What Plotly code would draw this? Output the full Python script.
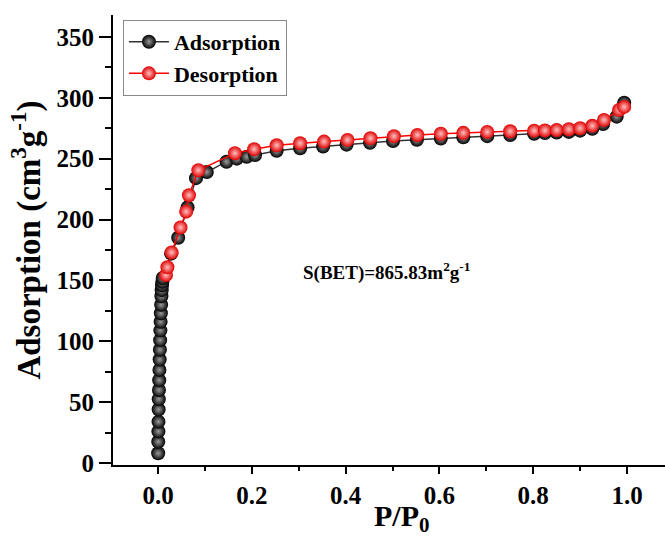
import plotly.graph_objects as go

ads_x = [0.0003, 0.0005, 0.0008, 0.001, 0.0013, 0.0016, 0.002, 0.0025, 0.003, 0.0035,
         0.004, 0.0045, 0.005, 0.0055, 0.006, 0.0066, 0.0072, 0.0078, 0.0085, 0.0093, 0.010,
         0.028, 0.043, 0.063, 0.081, 0.104, 0.146, 0.168, 0.189, 0.207, 0.253, 0.303,
         0.352, 0.402, 0.452, 0.501, 0.552, 0.603, 0.651, 0.702, 0.751, 0.802, 0.825,
         0.85, 0.876, 0.90, 0.926, 0.949, 0.978, 0.994]
ads_y = [8, 17.5, 26, 34, 44, 52.5, 60, 68, 76.5, 85,
         93, 101, 109, 116, 123, 130, 137, 142, 146, 149, 152,
         172, 185, 210, 234, 239, 247.5, 250, 251.5, 253, 256.5, 258.5,
         260, 261.5, 263, 264.5, 265.5, 266.5, 267.5, 268.5, 269.5, 270.5, 271,
         271.5, 272, 273, 274.5, 278.5, 284.5, 296]

des_x = [0.017, 0.020, 0.029, 0.048, 0.060, 0.066, 0.086, 0.164, 0.205, 0.253, 0.303,
         0.354, 0.404, 0.453, 0.503, 0.553, 0.603, 0.651, 0.702, 0.751, 0.802, 0.825,
         0.85, 0.876, 0.90, 0.926, 0.951, 0.983, 0.994]
des_y = [154.5, 160.8, 173, 193.5, 206.5, 220, 240.5, 254.5, 257.8, 261, 262.7,
         264, 265.4, 266.8, 268.5, 269.5, 270.5, 271.2, 272, 272.5, 273, 273.2,
         273.6, 274.2, 275, 277, 281.8, 290, 292.5]

x_ticks = [0.0, 0.2, 0.4, 0.6, 0.8, 1.0]
y_ticks = [0, 50, 100, 150, 200, 250, 300, 350]

FONT = "Liberation Serif"

fig = go.Figure()
fig.add_trace(go.Scatter(
    x=ads_x, y=ads_y, mode="lines+markers", name="<b>Adsorption</b>",
    line=dict(color="#333333", width=1.5),
    marker=dict(size=14, color="black", gradient=dict(type="radial", color="#9a9a9a"),
                line=dict(width=0)),
))
fig.add_trace(go.Scatter(
    x=des_x, y=des_y, mode="lines+markers", name="<b>Desorption</b>",
    line=dict(color="red", width=1.5),
    marker=dict(size=14, color="#e00000", gradient=dict(type="radial", color="#ffc0c0"),
                line=dict(width=0)),
))

fig.add_annotation(
    x=0.487, y=157, xref="x", yref="y", showarrow=False,
    text="<b>S(BET)=865.83m<sup>2</sup>g<sup>-1</sup></b>",
    font=dict(family=FONT, size=19, color="black"),
)
fig.add_annotation(
    x=0.524, y=-0.072, xref="paper", yref="paper", showarrow=False,
    xanchor="center", yanchor="top",
    text="<b>P/P<sub>0</sub></b>",
    font=dict(family=FONT, size=30, color="black"),
)

fig.update_layout(
    width=665, height=542,
    margin=dict(l=113, r=0, t=15, b=77),
    paper_bgcolor="white", plot_bgcolor="white",
    font=dict(family=FONT, color="black"),
    showlegend=True,
    legend=dict(
        x=0.018, y=0.989, xanchor="left", yanchor="top",
        bordercolor="#888888", borderwidth=1, bgcolor="white",
        font=dict(family=FONT, size=22, color="black"),
        itemwidth=40, tracegroupgap=0,
    ),
    xaxis=dict(
        range=[-0.096, 1.081], tickvals=x_ticks,
        ticktext=[f"<b>{v:.1f}</b>" for v in x_ticks],
        showline=True, linecolor="black", linewidth=2, mirror=False,
        ticks="outside", ticklen=7, tickwidth=2, tickcolor="black",
        minor=dict(dtick=0.1, tick0=0, ticks="outside", ticklen=4, tickwidth=2, tickcolor="black"),
        showgrid=False, zeroline=False,
        tickfont=dict(family=FONT, size=25, color="black"),
    ),
    yaxis=dict(
        range=[-1.6, 368], tickvals=y_ticks,
        ticktext=[f"<b>{v}</b>" for v in y_ticks],
        showline=True, linecolor="black", linewidth=2, mirror=False,
        ticks="outside", ticklen=12, tickwidth=2, tickcolor="black",
        minor=dict(dtick=25, tick0=0, ticks="outside", ticklen=6, tickwidth=2, tickcolor="black"),
        showgrid=False, zeroline=False,
        tickfont=dict(family=FONT, size=25, color="black"),
        title=dict(text="<b>Adsorption (cm<sup>3</sup>g<sup>-1</sup>)</b>", font=dict(family=FONT, size=33, color="black"), standoff=6),
    ),
)

fig.write_html("out.html")
